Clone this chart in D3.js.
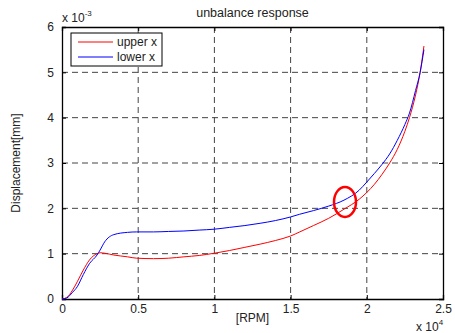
<!DOCTYPE html>
<html>
<head>
<meta charset="utf-8">
<script src="https://cdn.jsdelivr.net/npm/d3@7"></script>
<style>
  body { margin: 0; background: #fff; }
  text { font-family: "Liberation Sans", Arial, sans-serif; fill: #222; }
</style>
</head>
<body>
<div id="chart"></div>
<script>
// speed in units of 1e4 RPM, displacement in units of 1e-3 mm
var rpm = [0, 0.03, 0.07, 0.1, 0.14, 0.18, 0.23, 0.25, 0.28, 0.34, 0.43, 0.49, 0.6, 0.7, 0.8, 0.9, 1.0, 1.1, 1.2, 1.3, 1.4, 1.5, 1.56, 1.65, 1.75, 1.85, 1.95, 2.0, 2.05, 2.1, 2.15, 2.2, 2.25, 2.28, 2.32, 2.35, 2.375];
var upperX = [0, 0.03, 0.2, 0.38, 0.64, 0.86, 1.0, 1.02, 1.01, 0.97, 0.93, 0.90, 0.89, 0.90, 0.93, 0.96, 1.01, 1.07, 1.14, 1.21, 1.29, 1.39, 1.48, 1.62, 1.78, 1.98, 2.2, 2.35, 2.53, 2.75, 3.0, 3.3, 3.7, 4.0, 4.5, 5.0, 5.58];
var lowerX = [0, 0.02, 0.15, 0.27, 0.54, 0.78, 0.97, 1.08, 1.26, 1.42, 1.47, 1.48, 1.48, 1.49, 1.5, 1.52, 1.54, 1.58, 1.62, 1.67, 1.73, 1.81, 1.87, 1.95, 2.05, 2.18, 2.4, 2.58, 2.77, 2.97, 3.2, 3.5, 3.85, 4.1, 4.6, 5.0, 5.5];
var seriesNames = ["upper x", "lower x"];
var seriesColors = ["#ff0000", "#0000ff"];
var xTicks = [0, 0.5, 1, 1.5, 2, 2.5];
var yTicks = [0, 1, 2, 3, 4, 5, 6];
// red ellipse annotation (center in data units, radii in px)
var mark = {x: 1.857, y: 2.14, rx: 11, ry: 15};

var W = 455, H = 333;
var margin = {top: 27, right: 12, bottom: 34, left: 62},
    width = W - margin.left - margin.right,
    height = H - margin.top - margin.bottom;

var svg = d3.select("#chart").append("svg")
  .attr("width", W).attr("height", H);

var g = svg.append("g")
  .attr("transform", "translate(" + margin.left + "," + margin.top + ")");

var x = d3.scaleLinear().domain([0, 2.5]).range([0, width]);
var y = d3.scaleLinear().domain([0, 6]).range([height, 0]);

// grid
g.append("g").selectAll("line")
  .data(xTicks.slice(1, -1)).enter().append("line")
  .attr("x1", function(d) { return x(d); }).attr("x2", function(d) { return x(d); })
  .attr("y1", 0).attr("y2", height)
  .attr("stroke", "#444").attr("stroke-dasharray", "6,4");
g.append("g").selectAll("line")
  .data(yTicks.slice(1, -1)).enter().append("line")
  .attr("y1", function(d) { return y(d); }).attr("y2", function(d) { return y(d); })
  .attr("x1", 0).attr("x2", width)
  .attr("stroke", "#444").attr("stroke-dasharray", "6,4");

// axes (ticks pointing inward like matlab)
g.append("g")
  .attr("transform", "translate(0," + height + ")")
  .call(d3.axisBottom(x).tickValues(xTicks).tickSize(-4).tickPadding(5).tickFormat(d3.format("")));
g.append("g")
  .call(d3.axisLeft(y).tickValues(yTicks).tickSize(-4).tickPadding(8).tickFormat(d3.format("d")));
g.append("g").call(d3.axisTop(x).tickValues(xTicks).tickSize(-4).tickFormat(""));
g.append("g").attr("transform", "translate(" + width + ",0)")
  .call(d3.axisRight(y).tickValues(yTicks).tickSize(-4).tickFormat(""));
g.selectAll(".domain").attr("stroke", "#000").attr("stroke-width", 1.3);
g.selectAll(".tick line").attr("stroke", "#000");
g.selectAll(".tick text").style("font-size", "12px").attr("fill", "#222");

// lines
var line = d3.line()
  .x(function(d) { return x(d[0]); })
  .y(function(d) { return y(d[1]); })
  .curve(d3.curveMonotoneX);

[upperX, lowerX].forEach(function(vals, i) {
  g.append("path")
    .datum(rpm.map(function(r, j) { return [r, vals[j]]; }))
    .attr("fill", "none")
    .attr("stroke", seriesColors[i])
    .attr("stroke-width", 1)
    .attr("d", line);
});

// annotation ellipse
g.append("ellipse")
  .attr("cx", x(mark.x)).attr("cy", y(mark.y))
  .attr("rx", mark.rx).attr("ry", mark.ry)
  .attr("fill", "none").attr("stroke", "#ff0000").attr("stroke-width", 2.5);

// legend
var leg = g.append("g").attr("transform", "translate(9,6)");
leg.append("rect").attr("width", 91).attr("height", 33)
  .attr("fill", "#fff").attr("stroke", "#000");
seriesNames.forEach(function(name, i) {
  var yy = 9 + i * 15;
  leg.append("line").attr("x1", 7).attr("x2", 42).attr("y1", yy).attr("y2", yy)
    .attr("stroke", seriesColors[i]);
  leg.append("text").attr("x", 46).attr("y", yy + 4)
    .style("font-size", "12px").text(name);
});

// titles
svg.append("text").attr("x", margin.left + width / 2).attr("y", 17)
  .attr("text-anchor", "middle").style("font-size", "12.5px").text("unbalance response");
svg.append("text").attr("x", margin.left + width / 2).attr("y", 322)
  .attr("text-anchor", "middle").style("font-size", "12px").text("[RPM]");
svg.append("text")
  .attr("transform", "translate(20," + (margin.top + height / 2) + ") rotate(-90)")
  .attr("text-anchor", "middle").style("font-size", "12px").text("Displacement[mm]");

// exponent labels
var e1 = svg.append("text").attr("x", 62).attr("y", 22).style("font-size", "12px");
e1.append("tspan").text("x 10");
e1.append("tspan").attr("dy", -6).style("font-size", "8px").text("-3");
var e2 = svg.append("text").attr("x", 416).attr("y", 331).style("font-size", "12px");
e2.append("tspan").text("x 10");
e2.append("tspan").attr("dy", -6).style("font-size", "8px").text("4");
</script>
</body>
</html>
